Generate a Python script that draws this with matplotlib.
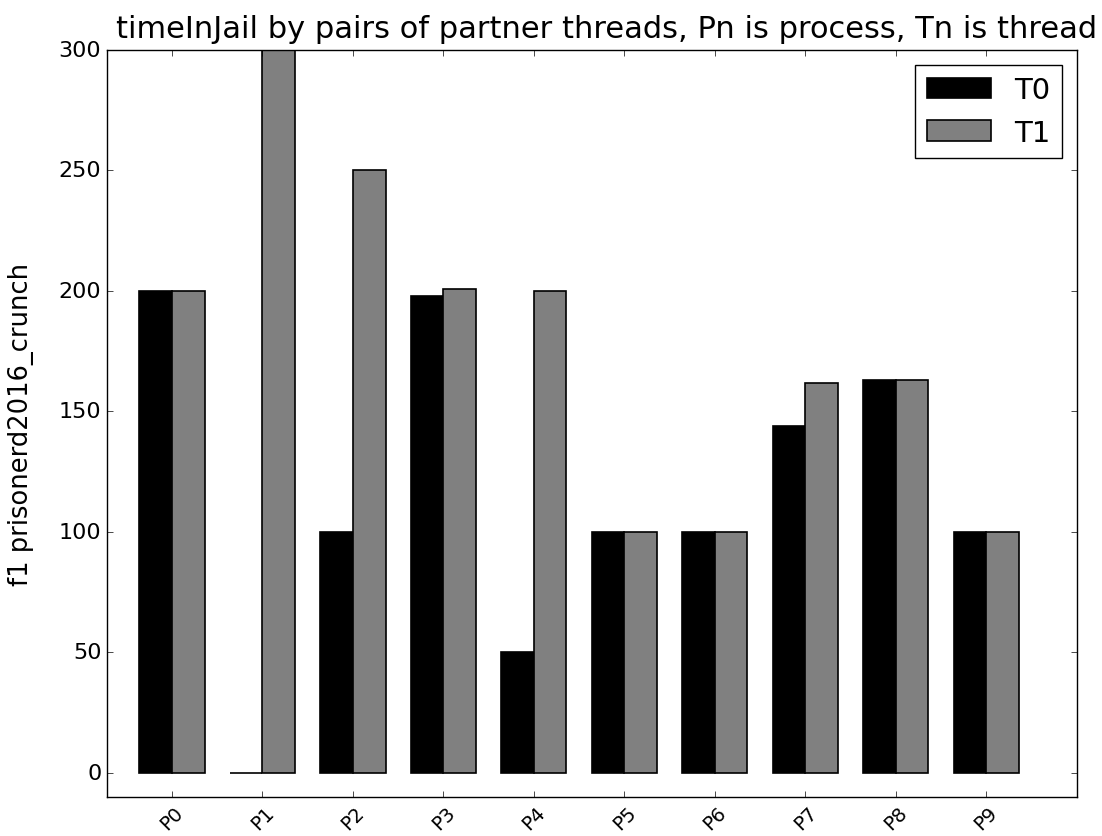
import matplotlib
matplotlib.use("Agg")
import matplotlib.pyplot as plt
import numpy as np

plt.style.use("classic")
plt.rcParams['font.family'] = ['DejaVu Sans']

categories = ["P0", "P1", "P2", "P3", "P4", "P5", "P6", "P7", "P8", "P9"]
t0_values = [200, 0, 100, 198, 50, 100, 100, 144, 163, 100]
t1_values = [200, 300, 250, 201, 200, 100, 100, 162, 163, 100]
series_labels = ["T0", "T1"]

fig = plt.figure(figsize=(11.02, 8.37), dpi=100, facecolor="white")
ax = fig.add_axes([0.097, 0.0466, 0.88, 0.8925])
ax.set_facecolor("white")

ind = np.arange(len(categories))
width = 0.36
ax.bar(ind - width, t0_values, width, align="edge", color="black", edgecolor="black", linewidth=1.2, label=series_labels[0])
ax.bar(ind, t1_values, width, align="edge", color="0.5", edgecolor="black", linewidth=1.2, label=series_labels[1])

ax.set_xlim(-0.72, 10.0)
ax.set_ylim(-10, 300)
ax.set_yticks([0, 50, 100, 150, 200, 250, 300])
ax.set_xticks(ind)
ax.set_xticklabels(categories, rotation=45, fontsize=14)
ax.tick_params(axis="y", labelsize=16)
ax.set_ylabel("f1 prisonerd2016_crunch", fontsize=18.5, labelpad=18)
fig.text(607 / 1102, 1 - 44 / 837, "timeInJail by pairs of partner threads, Pn is process, Tn is thread",
         fontsize=22, ha="center", va="bottom")
ax.legend(loc="upper right", fontsize=21, handlelength=2.2)

fig.savefig("out.png", dpi=100, facecolor="white")
